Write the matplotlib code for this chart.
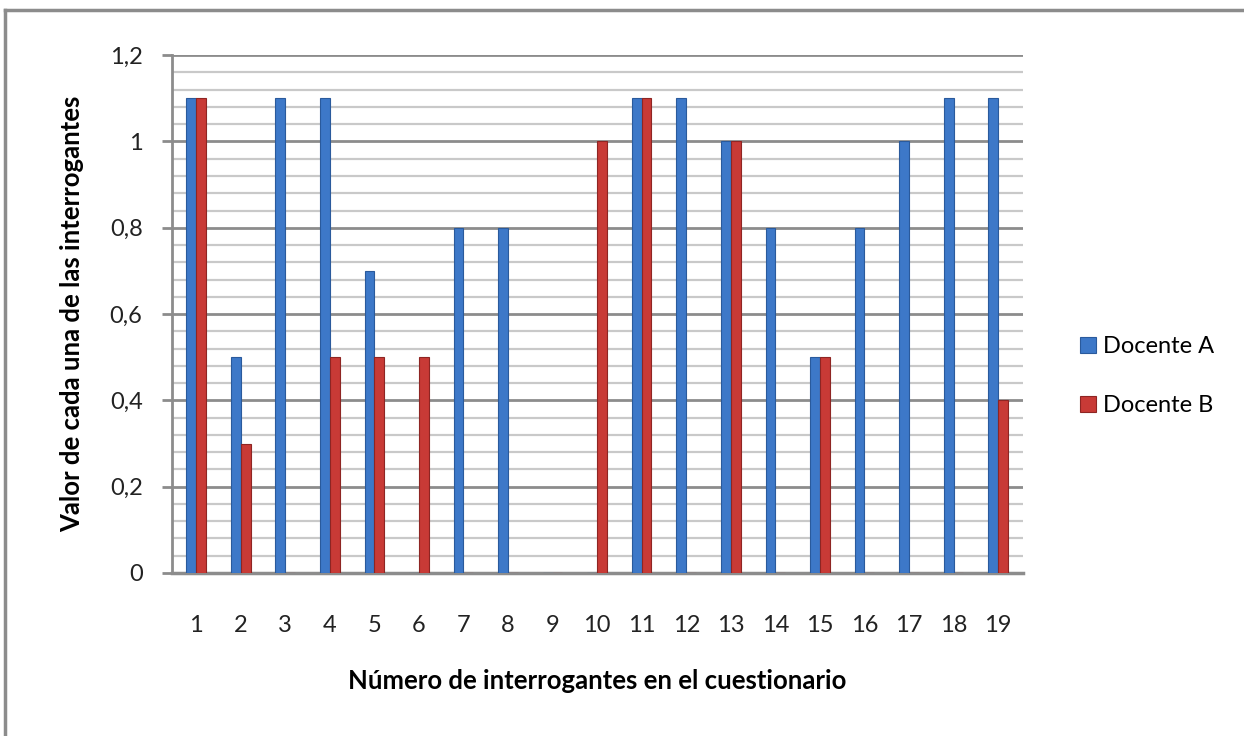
import numpy as np
import matplotlib.pyplot as plt
from matplotlib.lines import Line2D

plt.rcParams['font.family'] = ['Lato', 'DejaVu Sans']

# data
preguntas = [str(i) for i in range(1, 20)]
docente_a = [1.1, 0.5, 1.1, 1.1, 0.7, 0.0, 0.8, 0.8, 0.0, 0.0,
             1.1, 1.1, 1.0, 0.8, 0.5, 0.8, 1.0, 1.1, 1.1]
docente_b = [1.1, 0.3, 0.0, 0.5, 0.5, 0.5, 0.0, 0.0, 0.0, 1.0,
             1.1, 0.0, 1.0, 0.0, 0.5, 0.0, 0.0, 0.0, 0.4]
y_ticks = [0, 0.2, 0.4, 0.6, 0.8, 1.0, 1.2]
y_labels = ['0', '0,2', '0,4', '0,6', '0,8', '1', '1,2']

fig = plt.figure(figsize=(12.44, 7.36), dpi=100)
ax = fig.add_axes([0.138, 0.2215, 0.684, 0.7035])

x = np.arange(1, len(preguntas) + 1)
w = 0.22

# gridlines: minor every 0.04, major every 0.2
for v in np.arange(0, 1.2001, 0.04):
    major = abs(v / 0.2 - round(v / 0.2)) < 1e-6
    ax.axhline(v, color='#8c8c8c' if major else '#c9c9c9',
               lw=2.0 if major else 1.6, zorder=0)

ax.bar(x - w / 2, docente_a, width=w, color='#3d78c8', edgecolor='#2a5a9c',
       linewidth=0.8, label='Docente A', zorder=3)
ax.bar(x + w / 2, docente_b, width=w, color='#c83a36', edgecolor='#8e2523',
       linewidth=0.8, label='Docente B', zorder=3)

ax.set_xlim(0.45, 19.55)
ax.set_ylim(0, 1.2)
ax.set_xticks(x)
ax.set_xticklabels(preguntas)
ax.set_yticks(y_ticks)
ax.set_yticklabels(y_labels)
ax.tick_params(axis='x', length=0, pad=30, labelsize=17, colors='#222222')
ax.tick_params(axis='y', length=7, width=2, color='#8c8c8c', pad=14,
               labelsize=17, labelcolor='#222222')

for s in ['top', 'right']:
    ax.spines[s].set_visible(False)
ax.spines['left'].set_color('#8c8c8c')
ax.spines['left'].set_linewidth(2)
ax.spines['bottom'].set_color('#8c8c8c')
ax.spines['bottom'].set_linewidth(2.5)

ax.set_ylabel('Valor de cada una de las interrogantes', fontsize=18.5,
              fontweight='bold', labelpad=18)
ax.set_xlabel('Número de interrogantes en el cuestionario', fontsize=18.5,
              fontweight='bold', labelpad=24)

ax.legend(loc='center left', bbox_to_anchor=(1.043, 0.38), frameon=False,
          fontsize=17, handlelength=0.65, handleheight=0.65, labelspacing=1.6,
          handletextpad=0.3)

# outer chart border (left and top visible)
fig.add_artist(Line2D([5 / 1244, 5 / 1244], [0, 1 - 10 / 736],
                      transform=fig.transFigure, color='#8c8c8c', lw=2.5))
fig.add_artist(Line2D([5 / 1244, 1], [1 - 10 / 736, 1 - 10 / 736],
                      transform=fig.transFigure, color='#8c8c8c', lw=2.5))

fig.savefig('out.png', dpi=100)
